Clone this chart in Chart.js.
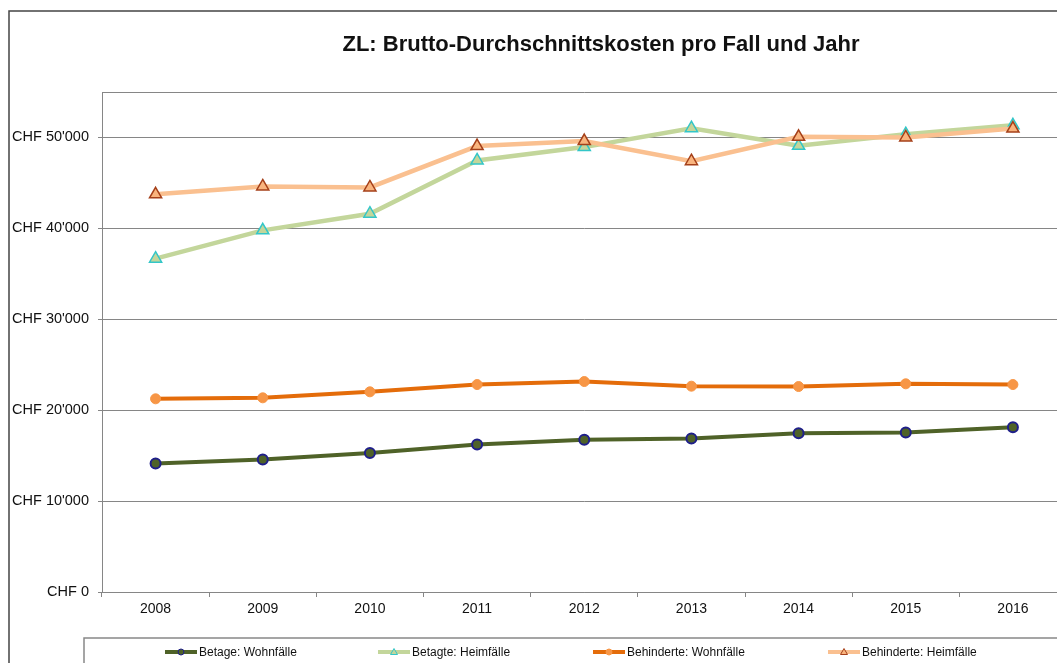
<!DOCTYPE html>
<html>
<head>
<meta charset="utf-8">
<script src="https://cdn.jsdelivr.net/npm/chart.js@4.4.1/dist/chart.umd.min.js"></script>
<style>
  body { margin: 0; background: #fff; }
  #wrap { position: relative; width: 1057px; height: 663px; overflow: hidden; }
  #chart { position: absolute; left: 0; top: 0; }
</style>
</head>
<body>
<div id="wrap"><canvas id="chart" width="1075" height="663"></canvas></div>
<script>
// data
var years = ['2008', '2009', '2010', '2011', '2012', '2013', '2014', '2015', '2016'];
var betagteWohn = [14140, 14580, 15280, 16230, 16750, 16890, 17470, 17550, 18130];
var betagteHeim = [36670, 39780, 41610, 47470, 48940, 51020, 49080, 50360, 51340];
var behindWohn = [21250, 21360, 22020, 22820, 23150, 22640, 22600, 22900, 22820];
var behindHeim = [43740, 44610, 44500, 49050, 49600, 47390, 50070, 50000, 50980];
var yTicks = [0, 10000, 20000, 30000, 40000, 50000];

function chf(v) {
    return 'CHF ' + String(v).replace(/\B(?=(\d{3})+(?!\d))/g, "'");
}

var gridGray = '#868686';

// frame, title, plot border and legend box
var decor = {
    id: 'decor',
    beforeDatasetsDraw: function(chart) {
        var ctx = chart.ctx, a = chart.chartArea;
        ctx.save();
        ctx.strokeStyle = gridGray;
        ctx.lineWidth = 1;
        ctx.beginPath();
        ctx.moveTo(a.left, a.top + 0.5);
        ctx.lineTo(a.right, a.top + 0.5);
        ctx.stroke();
        ctx.restore();
    },
    afterDraw: function(chart) {
        var ctx = chart.ctx;
        ctx.save();
        // outer frame
        ctx.strokeStyle = '#444';
        ctx.lineWidth = 1.5;
        ctx.beginPath();
        ctx.moveTo(9, 663);
        ctx.lineTo(9, 11);
        ctx.lineTo(chart.width, 11);
        ctx.stroke();
        // title
        ctx.fillStyle = '#111';
        ctx.font = 'bold 22px "Liberation Sans", Arial, sans-serif';
        ctx.textAlign = 'center';
        ctx.textBaseline = 'middle';
        ctx.fillText('ZL: Brutto-Durchschnittskosten pro Fall und Jahr', 601, 45);
        // legend box
        ctx.strokeStyle = '#888';
        ctx.lineWidth = 1.5;
        ctx.strokeRect(84, 638, 1100, 60);
        // legend items
        var xs = [165, 378, 593, 828];
        var y = 652;
        ctx.font = '12px "Liberation Sans", Arial, sans-serif';
        ctx.textAlign = 'left';
        chart.data.datasets.forEach(function(ds, i) {
            var x = xs[i];
            ctx.strokeStyle = ds.borderColor;
            ctx.lineWidth = 4;
            ctx.beginPath();
            ctx.moveTo(x, y);
            ctx.lineTo(x + 32, y);
            ctx.stroke();
            ctx.fillStyle = ds.pointBackgroundColor;
            ctx.strokeStyle = ds.pointBorderColor;
            ctx.lineWidth = 1;
            ctx.beginPath();
            if (ds.pointStyle === 'triangle') {
                ctx.moveTo(x + 16, y - 3.5);
                ctx.lineTo(x + 19.5, y + 2.5);
                ctx.lineTo(x + 12.5, y + 2.5);
                ctx.closePath();
            } else {
                ctx.arc(x + 16, y, 3, 0, Math.PI * 2);
            }
            ctx.fill();
            ctx.stroke();
            ctx.fillStyle = '#111';
            ctx.fillText(ds.label, x + 34, y + 1);
        });
        ctx.restore();
    }
};

var ctx = document.getElementById('chart').getContext('2d');
var chart = new Chart(ctx, {
    type: 'line',
    data: {
        labels: years,
        datasets: [{
            label: 'Betage: Wohnfälle',
            data: betagteWohn,
            borderColor: '#4f6228',
            borderWidth: 4,
            pointStyle: 'circle',
            pointRadius: 5,
            pointBorderWidth: 2,
            pointBackgroundColor: '#4f6228',
            pointBorderColor: '#1f1f8a',
            order: 4
        }, {
            label: 'Betagte: Heimfälle',
            data: betagteHeim,
            borderColor: '#c3d69b',
            borderWidth: 4.5,
            pointStyle: 'triangle',
            pointRadius: 7,
            pointBorderWidth: 1.5,
            pointBackgroundColor: '#c3d69b',
            pointBorderColor: '#33c6c8',
            order: 3
        }, {
            label: 'Behinderte: Wohnfälle',
            data: behindWohn,
            borderColor: '#e46c0a',
            borderWidth: 4,
            pointStyle: 'circle',
            pointRadius: 5,
            pointBorderWidth: 1,
            pointBackgroundColor: '#f79646',
            pointBorderColor: '#f79646',
            order: 2
        }, {
            label: 'Behinderte: Heimfälle',
            data: behindHeim,
            borderColor: '#fac090',
            borderWidth: 4.5,
            pointStyle: 'triangle',
            pointRadius: 7,
            pointBorderWidth: 1.5,
            pointBackgroundColor: '#f9b47e',
            pointBorderColor: '#a5401a',
            order: 1
        }]
    },
    options: {
        responsive: false,
        animation: false,
        layout: { padding: { left: 0, top: 92, right: 6.4, bottom: 0 } },
        plugins: {
            legend: { display: false },
            title: { display: false },
            tooltip: { enabled: false }
        },
        scales: {
            x: {
                offset: true,
                afterFit: function(scale) { scale.height = 71; },
                grid: {
                    offset: true,
                    drawOnChartArea: false,
                    tickLength: 5,
                    color: gridGray
                },
                border: { color: gridGray },
                ticks: {
                    padding: 4,
                    color: '#111',
                    maxRotation: 0,
                    font: { family: '"Liberation Sans", Arial, sans-serif', size: 14 }
                }
            },
            y: {
                min: 0,
                max: 55000,
                afterFit: function(scale) { scale.width = 102; },
                afterBuildTicks: function(scale) {
                    scale.ticks = yTicks.map(function(v) { return { value: v }; });
                },
                grid: {
                    color: gridGray,
                    tickLength: 4
                },
                border: { color: gridGray },
                ticks: {
                    padding: 9,
                    color: '#111',
                    font: { family: '"Liberation Sans", Arial, sans-serif', size: 14.5 },
                    callback: function(v) { return chf(v); }
                }
            }
        }
    },
    plugins: [decor]
});
</script>
</body>
</html>
